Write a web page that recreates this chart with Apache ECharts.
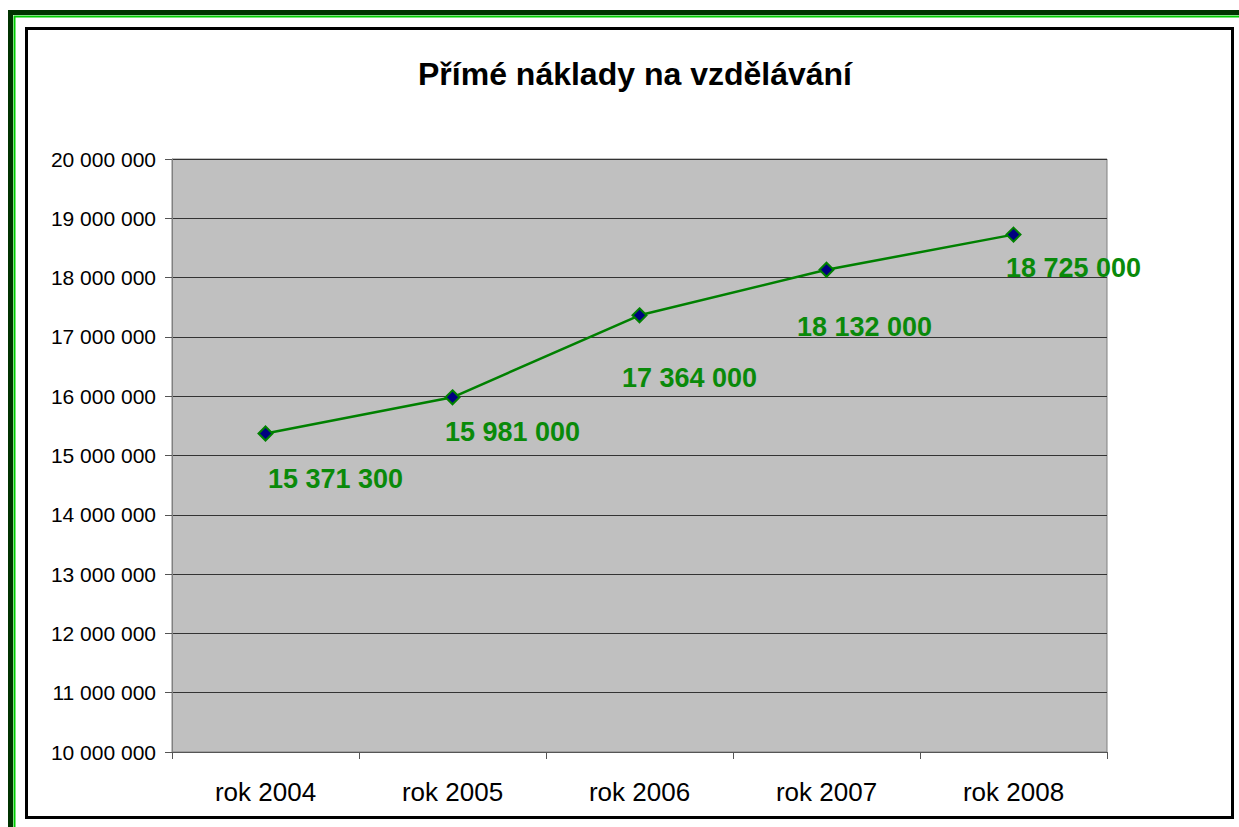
<!DOCTYPE html>
<html>
<head>
<meta charset="utf-8">
<script src="https://cdn.jsdelivr.net/npm/echarts@6/dist/echarts.min.js"></script>
<style>
  html, body { margin: 0; padding: 0; background: #fff; }
  #chart { width: 1239px; height: 827px; }
</style>
</head>
<body>
<div id="chart"></div>
<script>
const categories = ["rok 2004", "rok 2005", "rok 2006", "rok 2007", "rok 2008"];
const values = [15371300, 15981000, 17364000, 18132000, 18725000];
const yTicks = [10000000, 20000000, 1000000]; // min, max, interval

// label placement like the original (dx, dy from the point)
const labelOffsets = [[70, 46], [60, 35], [50, 63], [38, 57], [60, 33]];

function fmt(v) {
  return String(v).replace(/\B(?=(\d{3})+(?!\d))/g, " ");
}

const chart = echarts.init(document.getElementById("chart"), undefined, { renderer: "svg" });

chart.setOption({
  backgroundColor: "#fff",
  animation: false,
  textStyle: { fontFamily: "Liberation Sans, Arial, sans-serif" },
  title: {
    text: "Přímé náklady na vzdělávání",
    left: 413,
    top: 53,
    textStyle: { fontSize: 32, fontWeight: "bold", color: "#000", fontFamily: "Liberation Sans" }
  },
  graphic: [
    { type: "rect", shape: { x: 10.5, y: 12.5, width: 1300, height: 900 }, style: { fill: "none", stroke: "#003300", lineWidth: 5 } },
    { type: "rect", shape: { x: 14.5, y: 16.5, width: 1300, height: 900 }, style: { fill: "none", stroke: "#00cc00", lineWidth: 2 } },
    { type: "rect", shape: { x: 26.5, y: 28.5, width: 1206, height: 789 }, style: { fill: "none", stroke: "#000", lineWidth: 3 } }
  ],
  grid: {
    left: 172, right: 1239 - 1107, top: 159, bottom: 827 - 752,
    show: true, backgroundColor: "#c0c0c0", borderColor: "#808080", borderWidth: 1
  },
  xAxis: {
    type: "category",
    data: categories,
    boundaryGap: true,
    axisLine: { lineStyle: { color: "#555", width: 1 } },
    axisTick: { show: true, alignWithLabel: false, length: 7, lineStyle: { color: "#555" } },
    axisLabel: { color: "#000", fontSize: 26, margin: 27, fontFamily: "Liberation Sans" }
  },
  yAxis: {
    type: "value",
    min: yTicks[0], max: yTicks[1], interval: yTicks[2],
    axisLine: { show: true, lineStyle: { color: "#808080" } },
    axisTick: { show: true, length: 7, lineStyle: { color: "#555" } },
    splitLine: { lineStyle: { color: "#333", width: 1 } },
    axisLabel: { color: "#000", fontSize: 21, margin: 16, fontFamily: "Liberation Sans", formatter: fmt }
  },
  series: [{
    type: "line",
    data: values.map((v, i) => ({
      value: v,
      label: { offset: labelOffsets[i] }
    })),
    symbol: "diamond",
    symbolSize: 14,
    itemStyle: { color: "#000080", borderColor: "#008000", borderWidth: 2 },
    lineStyle: { color: "#008000", width: 2.5 },
    label: {
      show: true,
      position: "inside",
      color: "#0a8a0a",
      fontSize: 27,
      fontWeight: "bold",
      fontFamily: "Liberation Sans",
      formatter: p => fmt(p.value)
    }
  }]
});
</script>
</body>
</html>
